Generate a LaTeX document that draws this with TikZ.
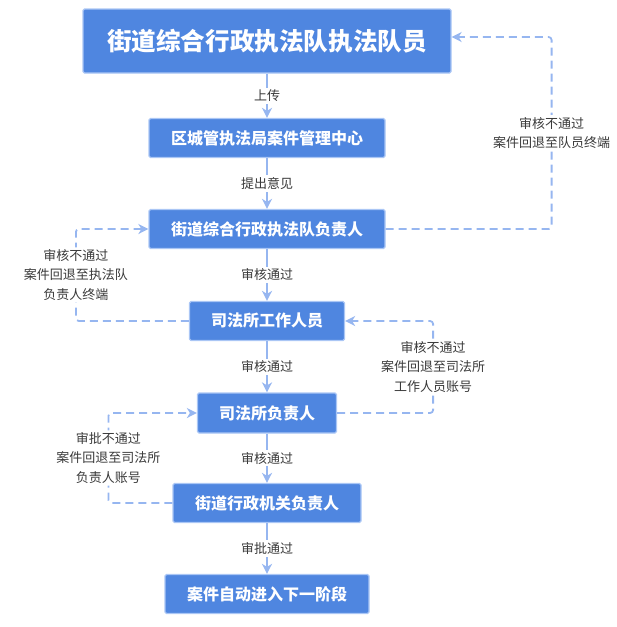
\documentclass[tikz,border=0pt]{standalone}
\usepackage{fontspec}
\setmainfont{Noto Sans CJK SC}
\usetikzlibrary{arrows.meta}
\definecolor{azul}{RGB}{79,134,224}
\definecolor{borde}{RGB}{170,198,245}
\definecolor{linea}{RGB}{150,182,240}
\definecolor{texto}{RGB}{58,58,58}

\begin{document}
\begin{tikzpicture}[x=1pt,y=-1pt,
    >={Stealth[length=10pt,width=10pt,inset=3pt]},
    caja/.style={draw=borde, line width=1.2pt, fill=azul, text=white,
        font=\bfseries\fontsize{16}{18}\selectfont, rounded corners=1.5pt,
        inner sep=0pt, minimum height=39pt},
    etiqueta/.style={fill=white, text=texto, font=\fontsize{13}{19.5}\selectfont,
        align=center, inner sep=2pt},
    flecha/.style={->, draw=linea, line width=1.8pt},
    retorno/.style={flecha, dash pattern=on 8pt off 5pt, rounded corners=3pt}]
    \useasboundingbox (0,0) rectangle (617,627);

    % Dibuja las cajas del proceso
    \node[caja, minimum width=368pt, minimum height=64pt,
        font=\bfseries\fontsize{24.6}{26}\selectfont] (miembro) at (267,41) {街道综合行政执法队执法队员};
    \node[caja, minimum width=236pt] (centro) at (267,138) {区城管执法局案件管理中心};
    \node[caja, minimum width=236pt] (jefe) at (267,229) {街道综合行政执法队负责人};
    \node[caja, minimum width=155pt] (personal) at (267,321) {司法所工作人员};
    \node[caja, minimum width=139pt, minimum height=40pt] (director) at (267,413) {司法所负责人};
    \node[caja, minimum width=188pt] (oficial) at (267,503) {街道行政机关负责人};
    \node[caja, minimum width=204pt] (etapa) at (267,594) {案件自动进入下一阶段};

    % Dibuja el flujo principal
    \draw[flecha] (miembro) -- (centro) node[midway, etiqueta] {上传};
    \draw[flecha] (centro) -- (jefe) node[midway, etiqueta] {提出意见};
    \draw[flecha] (jefe) -- (personal) node[midway, etiqueta] {审核通过};
    \draw[flecha] (personal) -- (director) node[midway, etiqueta] {审核通过};
    \draw[flecha] (director) -- (oficial) node[midway, etiqueta] {审核通过};
    \draw[flecha] (oficial) -- (etapa) node[midway, etiqueta] {审批通过};

    % Dibuja los retornos
    \draw[retorno] (jefe.east) -- ++(166,0) |- node[pos=0.25, etiqueta] {审核不通过\\案件回退至队员终端} ([yshift=4pt]miembro.east);
    \draw[retorno] (personal.west) -- ++(-113,0) |- node[pos=0.25, etiqueta] {审核不通过\\案件回退至执法队\\负责人终端} (jefe.west);
    \draw[retorno] (director.east) -- ++(96,0) |- node[pos=0.25, etiqueta] {审核不通过\\案件回退至司法所\\工作人员账号} (personal.east);
    \draw[retorno] (oficial.west) -- ++(-64,0) |- node[pos=0.25, etiqueta] {审批不通过\\案件回退至司法所\\负责人账号} (director.west);
\end{tikzpicture}
\end{document}
